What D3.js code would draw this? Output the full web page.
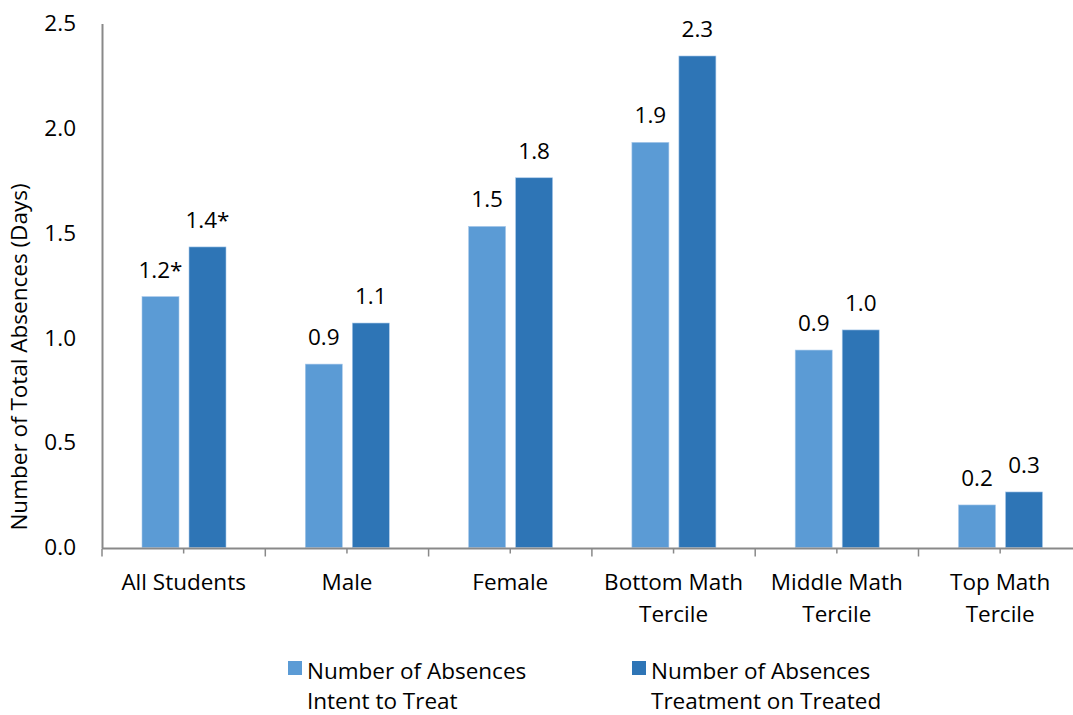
<!DOCTYPE html>
<html><head><meta charset="utf-8">
<script src="https://cdn.jsdelivr.net/npm/d3@7"></script>
<style>
body{margin:0;background:#fff;}
text{font-family:"Open Sans","Noto Sans",sans-serif;fill:#000;}
</style></head>
<body><svg id="chart" width="1073" height="715"></svg>
<script>
const categories = [["All Students"],["Male"],["Female"],["Bottom Math","Tercile"],["Middle Math","Tercile"],["Top Math","Tercile"]];
const seriesNames = ["Number of Absences Intent to Treat","Number of Absences Treatment on Treated"];
const legendLines = [["Number of Absences","Intent to Treat"],["Number of Absences","Treatment on Treated"]];
const ittValues = [1.197, 0.875, 1.532, 1.933, 0.942, 0.203];
const totValues = [1.434, 1.071, 1.764, 2.345, 1.038, 0.265];
const ittLabels = ["1.2*","0.9","1.5","1.9","0.9","0.2"];
const totLabels = ["1.4*","1.1","1.8","2.3","1.0","0.3"];
const yTicks = [0, 0.5, 1.0, 1.5, 2.0, 2.5];
const colors = ["#5B9BD5","#2E75B6"];

const FS = 22.5;
const svg = d3.select("#chart");
const plotLeft = 102, plotTop = 23.5, plotBottom = 547.5, bandW = 163.3;
const keys = categories.map(c => c.join(" "));
const x = d3.scaleBand().domain(keys).range([plotLeft, plotLeft + bandW*6]).paddingInner(0).paddingOuter(0);
const xs = d3.scaleBand().domain([0,1]).range([40, 124]).paddingInner(0.2128).paddingOuter(0);
const y = d3.scaleLinear().domain([0, 2.5]).range([plotBottom, plotTop]);

// y axis
const yAxis = d3.axisLeft(y).tickValues(yTicks).tickFormat(d3.format(".1f")).tickSize(0).tickPadding(26);
const gy = svg.append("g").attr("transform", `translate(${plotLeft},0)`).call(yAxis);
gy.select(".domain").attr("stroke","#898989").attr("stroke-width",2);
gy.selectAll("text").attr("font-size",FS).attr("font-family","'Open Sans',sans-serif");

// bars
const data = keys.map((k,i) => ({k, v:[ittValues[i], totValues[i]], l:[ittLabels[i], totLabels[i]]}));
const g = svg.append("g");
data.forEach(d => {
  [0,1].forEach(s => {
    const bx = x(d.k) + xs(s);
    g.append("rect").attr("x", bx).attr("y", y(d.v[s])).attr("width", xs.bandwidth())
      .attr("height", y(0) - y(d.v[s])).attr("fill", colors[s])
      .attr("stroke", "#a9c9ea").attr("stroke-width", 0.6);
    g.append("text").attr("x", bx + xs.bandwidth()/2).attr("y", y(d.v[s]) - 19)
      .attr("text-anchor","middle").attr("font-size",FS).text(d.l[s]);
  });
});

// x axis
svg.append("line").attr("x1", plotLeft).attr("x2", 1073).attr("y1", plotBottom+1).attr("y2", plotBottom+1)
  .attr("stroke","#898989").attr("stroke-width",2);
d3.range(0, 12).forEach(i => {
  const tx = plotLeft + i*bandW/2;
  svg.append("line").attr("x1", tx).attr("x2", tx).attr("y1", plotBottom+1).attr("y2", plotBottom + (i%2===0 ? 9 : 6))
    .attr("stroke","#898989").attr("stroke-width",1.5);
});
data.forEach((d,i) => {
  categories[i].forEach((line, j) => {
    svg.append("text").attr("x", x(d.k) + bandW/2).attr("y", 590 + j*32)
      .attr("text-anchor","middle").attr("font-size",FS).text(line);
  });
});

// y title
svg.append("text").attr("transform","translate(27,357) rotate(-90)").attr("text-anchor","middle")
  .attr("font-size",FS).text("Number of Total Absences (Days)");

// legend
const legX = [288, 632];
seriesNames.forEach((n,i) => {
  svg.append("rect").attr("x", legX[i]).attr("y", 661).attr("width", 14).attr("height", 14).attr("fill", colors[i]);
  legendLines[i].forEach((line,j) => {
    svg.append("text").attr("x", legX[i] + 19).attr("y", 679 + j*30).attr("font-size",FS).text(line);
  });
});
</script></body></html>
